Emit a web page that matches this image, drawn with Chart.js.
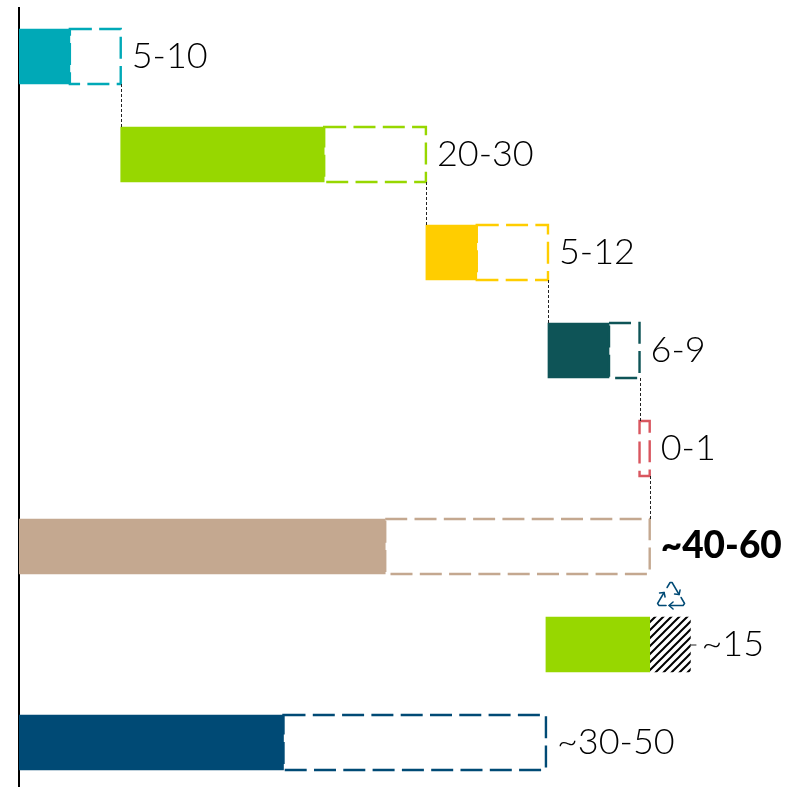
<!DOCTYPE html>
<html>
<head>
<meta charset="utf-8">
<style>
html, body { margin: 0; padding: 0; background: #fff; overflow: hidden; height: 787px; }
canvas { display: block; }
</style>
<script src="https://cdn.jsdelivr.net/npm/chart.js@4"></script>
</head>
<body>
<canvas id="myChart" width="785" height="792"></canvas>
<script>
const categories = ['5-10', '20-30', '5-12', '6-9', '0-1', '~40-60', '~15', '~30-50'];
const solidRanges = [[0, 5], [10, 30], [40, 45], [52, 58], null, [0, 36], [51.8, 62], [0, 26]];
const dashedRanges = [[5, 10], [30, 40], [45, 52], [58, 61], [61, 62], [36, 62], null, [26, 51.8]];
const hatchedRanges = [null, null, null, null, null, null, [62, 66], null];
const colors = ['#00A9B7', '#97D700', '#FFCD00', '#0E5457', '#D9565F', '#C4A890', '#97D700', '#004A75'];
const boldLabels = ['~40-60'];

document.addEventListener("DOMContentLoaded", function () {
    const hatchCanvas = document.createElement('canvas');
    hatchCanvas.width = 8;
    hatchCanvas.height = 8;
    const hc = hatchCanvas.getContext('2d');
    hc.strokeStyle = '#000';
    hc.lineWidth = 2;
    hc.beginPath();
    hc.moveTo(-2, 10);
    hc.lineTo(10, -2);
    hc.moveTo(-2, 2);
    hc.lineTo(2, -2);
    hc.moveTo(6, 10);
    hc.lineTo(10, 6);
    hc.stroke();
    const hatch = hc.createPattern(hatchCanvas, 'repeat');

    function drawRecycleIcon(ctx, cx, cy) {
        ctx.strokeStyle = '#004A75';
        ctx.lineWidth = 1.5;
        ctx.lineJoin = 'round';
        ctx.lineCap = 'round';
        const paths = [
            [[-5, 10], [-12, 10], [-13.5, 8], [-7, -3]],
            [[-4, -8], [-1, -13], [1, -13], [8, -1]],
            [[10, 2], [13.5, 8], [12, 10], [-2, 10]],
            [[-11.5, -2.5], [-7, -3], [-6, 1.5]],
            [[3.5, -1.5], [8, -1], [9, -5.5]],
            [[2, 6.5], [-2, 10], [2, 13.5]]
        ];
        paths.forEach(function (s) {
            ctx.beginPath();
            s.forEach(function (p, k) {
                if (k === 0) ctx.moveTo(cx + p[0], cy + p[1]);
                else ctx.lineTo(cx + p[0], cy + p[1]);
            });
            ctx.stroke();
        });
    }

    // bars have no dashed border in Chart.js, so stroke them here
    const extras = {
        id: 'extras',
        afterDatasetsDraw(chart) {
            const ctx = chart.ctx;
            const x = chart.scales.x;
            const y = chart.scales.y;
            const half = 27.5;
            ctx.save();

            dashedRanges.forEach(function (r, i) {
                if (!r) return;
                const left = x.getPixelForValue(r[0]);
                const right = x.getPixelForValue(r[1]);
                const mid = y.getPixelForValue(i);
                ctx.strokeStyle = colors[i];
                ctx.lineWidth = 2.4;
                ctx.setLineDash([22, 7.3]);
                ctx.strokeRect(left, mid - half, right - left, half * 2);
            });

            // thin connectors between steps
            ctx.strokeStyle = '#222';
            ctx.lineWidth = 1;
            ctx.setLineDash([3, 2]);
            for (let i = 0; i < 5; i++) {
                const px = Math.round(x.getPixelForValue(dashedRanges[i][1])) + 0.5;
                ctx.beginPath();
                ctx.moveTo(px, y.getPixelForValue(i) + half);
                ctx.lineTo(px, y.getPixelForValue(i + 1) - half);
                ctx.stroke();
            }
            ctx.setLineDash([]);

            // little stub after the hatched part
            const stubX = x.getPixelForValue(hatchedRanges[6][1]);
            ctx.strokeStyle = '#222';
            ctx.lineWidth = 1;
            ctx.beginPath();
            ctx.moveTo(stubX, y.getPixelForValue(6) + 0.5);
            ctx.lineTo(stubX + 6, y.getPixelForValue(6) + 0.5);
            ctx.stroke();

            // value labels
            ctx.textBaseline = 'middle';
            categories.forEach(function (label, i) {
                const ends = [solidRanges[i], dashedRanges[i], hatchedRanges[i]]
                    .filter(Boolean).map(function (r) { return r[1]; });
                const px = x.getPixelForValue(Math.max.apply(null, ends));
                ctx.fillStyle = '#000';
                ctx.font = boldLabels.includes(label) ? '900 37px Lato' : '300 36px Lato';
                ctx.fillText(label, px + 11, y.getPixelForValue(i));
            });

            // recycling mark above the hatched part
            drawRecycleIcon(ctx, x.getPixelForValue(64.1), y.getPixelForValue(6) - 49);
            ctx.restore();
        }
    };

    new Chart(document.getElementById('myChart'), {
        type: 'bar',
        data: {
            labels: categories,
            datasets: [
                { data: solidRanges, backgroundColor: colors, barThickness: 55, grouped: false },
                { data: hatchedRanges, backgroundColor: hatch, barThickness: 55, grouped: false },
                { data: dashedRanges, backgroundColor: 'rgba(0,0,0,0)', barThickness: 55, grouped: false }
            ]
        },
        options: {
            indexAxis: 'y',
            responsive: false,
            animation: false,
            layout: { padding: { left: 19, top: 7.5, bottom: 0.5, right: 0 } },
            plugins: { legend: { display: false }, tooltip: { enabled: false } },
            scales: {
                x: { display: false, min: 0, max: 75.3 },
                y: {
                    grid: { display: false, drawTicks: false },
                    ticks: { display: false },
                    border: { color: '#000', width: 2 },
                    afterFit: function (scale) { scale.width = 0; }
                }
            }
        },
        plugins: [extras]
    });
});
</script>
</body>
</html>
